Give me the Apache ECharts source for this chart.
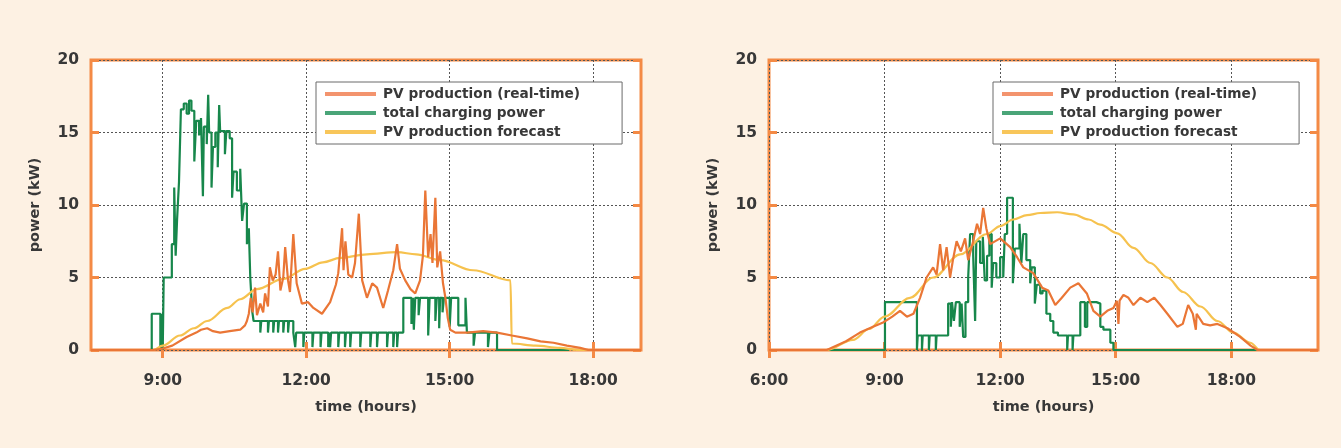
<!DOCTYPE html>
<html>
<head>
<meta charset="utf-8">
<title>PV production and EV charging</title>
<script src="https://cdn.jsdelivr.net/npm/echarts@6/dist/echarts.min.js"></script>
<style>
  html, body { margin: 0; padding: 0; background: #fdf1e3; }
  #chart { width: 1341px; height: 448px; }
</style>
</head>
<body>
<div id="chart"></div>
<script>
// ---- Day 1 (left panel): [hour, kW] ----
const day1Pv = [
  [7.5,0],[8.8,0],[9.0,0.1],[9.2,0.3],[9.5,0.9],[9.7,1.2],[9.8,1.4],[9.93,1.5],[10.05,1.3],[10.2,1.2],
  [10.4,1.3],[10.62,1.4],[10.72,1.7],[10.76,2.0],[10.8,2.5],[10.84,3.6],[10.88,2.6],[10.93,4.3],[10.97,2.4],
  [11.04,3.2],[11.1,2.6],[11.14,3.9],[11.2,3.0],[11.24,5.7],[11.3,4.8],[11.36,5.2],[11.41,6.8],[11.46,4.1],
  [11.52,5.0],[11.56,7.1],[11.62,4.8],[11.66,4.0],[11.73,8.0],[11.8,4.6],[11.91,3.2],[12.04,3.3],[12.15,2.9],
  [12.33,2.5],[12.5,3.3],[12.62,4.5],[12.67,5.3],[12.75,8.4],[12.78,5.5],[12.82,7.5],[12.88,5.2],[12.96,5.0],
  [13.02,6.0],[13.1,9.4],[13.17,4.8],[13.27,3.6],[13.38,4.6],[13.48,4.3],[13.61,2.9],[13.71,4.1],[13.82,5.5],
  [13.9,7.3],[13.96,5.6],[14.07,4.8],[14.18,4.2],[14.28,3.9],[14.38,4.8],[14.44,6.5],[14.49,11.0],[14.55,6.4],
  [14.6,8.0],[14.64,6.0],[14.7,10.5],[14.74,5.7],[14.8,6.8],[14.86,4.6],[14.91,3.6],[14.96,2.2],[15.01,1.4],
  [15.12,1.2],[15.37,1.2],[15.7,1.3],[15.99,1.2],[16.3,1.0],[16.62,0.8],[16.9,0.6],[17.17,0.5],[17.45,0.3],
  [17.73,0.15],[17.9,0],[19,0]
];
const day1Charging = [
  [7.5,0],[8.77,2.5],[8.95,0],[8.97,2.5],[9.0,0],[9.02,5.0],[9.19,7.3],[9.24,11.2],[9.27,6.5],[9.3,9.0],
  [9.34,11.6],[9.38,16.6],[9.44,17.0],[9.5,16.3],[9.55,17.2],[9.6,16.5],[9.66,13.0],[9.7,15.8],[9.76,14.8],
  [9.8,16.0],[9.84,10.6],[9.86,15.4],[9.92,14.2],[9.95,17.6],[9.97,15.0],[10.02,11.2],[10.05,14.0],[10.1,15.0],
  [10.15,12.6],[10.18,16.9],[10.2,15.1],[10.3,13.5],[10.33,15.1],[10.4,14.6],[10.45,10.5],[10.48,12.3],
  [10.55,11.0],[10.62,12.5],[10.66,8.9],[10.7,10.1],[10.76,7.3],[10.8,8.4],[10.83,5.0],[10.87,2.7],[10.9,2.0],
  [11.04,1.2],[11.06,2.0],[11.2,1.2],[11.22,2.0],[11.31,1.2],[11.33,2.0],[11.41,1.2],[11.43,2.0],[11.52,1.2],
  [11.54,2.0],[11.62,1.2],[11.64,2.0],[11.73,1.2],[11.77,0.2],[11.79,1.2],[11.94,0.2],[11.96,1.2],[12.13,0.2],
  [12.15,1.2],[12.3,0.2],[12.32,1.2],[12.46,0.2],[12.48,1.2],[12.5,0.2],[12.52,1.2],[12.67,0.2],[12.69,1.2],
  [12.81,0.2],[12.83,1.2],[12.92,0.2],[12.94,1.2],[13.13,0.2],[13.15,1.2],[13.34,0.2],[13.36,1.2],[13.48,0.2],
  [13.5,1.2],[13.69,0.2],[13.71,1.2],[13.82,0.2],[13.84,1.2],[13.9,0.2],[13.92,1.2],[14.03,3.6],[14.2,1.8],
  [14.23,3.6],[14.25,1.4],[14.28,3.6],[14.35,2.4],[14.38,3.6],[14.55,1.0],[14.58,3.6],[14.7,2.0],[14.73,3.6],
  [14.78,1.5],[14.8,3.6],[14.85,2.6],[14.88,3.6],[15.0,1.6],[15.03,3.6],[15.18,1.7],[15.33,3.6],[15.36,1.2],
  [15.5,0.3],[15.53,1.2],[15.65,1.2],[15.8,0.2],[15.83,1.2],[15.99,0],[17.5,0]
];
const day1Forecast = [
  [7.5,0],[8.8,0],[9.0,0.3],[9.36,1.0],[9.65,1.5],[9.93,2.0],[10.35,2.9],[10.62,3.5],[10.97,4.2],[11.52,4.9],
  [11.98,5.6],[12.35,6.05],[12.71,6.35],[13.27,6.6],[13.9,6.75],[14.3,6.6],[14.8,6.2],[15.49,5.5],[16.27,4.8],
  [16.3,0.45],[16.8,0.3],[17.3,0.15],[17.7,0],[19,0]
];

// ---- Day 2 (right panel): [hour, kW] ----
const day2Pv = [
  [6,0],[7.5,0],[8.0,0.6],[8.36,1.2],[8.7,1.6],[8.96,1.9],[9.2,2.3],[9.4,2.7],[9.58,2.3],[9.75,2.5],[9.92,3.6],
  [10.09,5.0],[10.26,5.7],[10.35,5.2],[10.44,7.3],[10.52,5.5],[10.61,7.1],[10.7,5.0],[10.78,6.3],[10.87,7.5],
  [10.98,6.8],[11.09,7.7],[11.17,6.2],[11.3,7.5],[11.4,8.7],[11.48,8.0],[11.56,9.8],[11.64,8.4],[11.74,7.3],
  [12.0,7.7],[12.26,7.1],[12.44,6.4],[12.6,5.7],[12.86,5.3],[13.09,4.3],[13.25,4.1],[13.43,3.1],[13.6,3.6],
  [13.82,4.3],[14.03,4.6],[14.25,3.9],[14.42,2.7],[14.6,2.3],[14.78,2.7],[14.94,2.9],[15.03,3.4],[15.07,1.8],
  [15.1,3.4],[15.2,3.8],[15.33,3.6],[15.46,3.1],[15.64,3.6],[15.82,3.3],[16.0,3.6],[16.16,3.1],[16.34,2.5],
  [16.6,1.6],[16.74,1.8],[16.88,3.1],[17.0,2.5],[17.08,1.4],[17.1,2.5],[17.27,1.8],[17.45,1.7],[17.64,1.8],
  [17.9,1.5],[18.23,0.9],[18.5,0.3],[18.68,0],[20.25,0]
];
const day2Charging = [
  [6,0],[9.01,3.3],[9.84,0],[9.86,1.0],[9.97,0],[9.99,1.0],[10.15,0],[10.17,1.0],[10.33,0],[10.35,1.0],
  [10.65,3.2],[10.72,1.6],[10.75,3.3],[10.8,2.0],[10.85,3.3],[10.95,1.6],[11.0,3.2],[11.04,0.9],[11.1,3.3],
  [11.17,5.0],[11.22,8.0],[11.3,6.5],[11.35,2.0],[11.38,7.5],[11.48,6.0],[11.55,7.8],[11.6,4.8],[11.66,6.5],
  [11.72,8.0],[11.78,4.3],[11.82,6.0],[11.9,5.0],[12.0,6.4],[12.08,5.0],[12.12,8.0],[12.18,10.5],[12.33,4.6],
  [12.38,7.0],[12.5,8.7],[12.55,6.0],[12.6,8.0],[12.68,6.2],[12.78,4.6],[12.82,5.7],[12.9,3.2],[12.95,4.5],
  [13.04,3.9],[13.1,4.1],[13.2,2.5],[13.3,2.0],[13.38,1.2],[13.5,1.0],[13.74,0],[13.76,1.0],[13.88,0],
  [13.9,1.0],[14.08,3.3],[14.2,1.6],[14.26,3.3],[14.5,3.2],[14.6,1.6],[14.68,1.4],[14.86,0.5],[14.94,0],[18.7,0]
];
const day2Forecast = [
  [6,0],[7.5,0],[8.18,0.7],[8.6,1.45],[9.0,2.3],[9.66,3.6],[10.26,5.0],[10.96,6.6],[11.66,8.0],[12.0,8.55],
  [12.34,9.0],[12.7,9.3],[13.04,9.45],[13.48,9.5],[13.9,9.35],[14.3,9.0],[14.6,8.65],[15.04,8.05],[15.46,7.05],
  [15.9,6.0],[16.34,5.0],[16.75,4.0],[17.2,3.0],[17.64,2.0],[18.05,1.2],[18.49,0.5],[18.75,0],[20.25,0]
];

// ---- axes and labels ----
const seriesNames = ['PV production (real-time)', 'total charging power', 'PV production forecast'];
const hourTicks = [9, 12, 15, 18];
const day2HourTicks = [6, 9, 12, 15, 18];
const xName = 'time (hours)';
const yName = 'power (kW)';

const ORANGE = '#f48a45';
const PV_COLOR = '#ea7636';
const CHG_COLOR = '#17874b';
const FC_COLOR = '#f6c24e';
const TEXT = '#383838';
const FONT = 'DejaVu Sans';

const chart = echarts.init(document.getElementById('chart'), null, { renderer: 'canvas' });

const panels = [
  { left: 91, width: 550, min: 7.5, max: 19, ticks: hourTicks, pv: day1Pv, chg: day1Charging, fc: day1Forecast, legendLeft: 316 },
  { left: 769, width: 549, min: 6, max: 20.25, ticks: day2HourTicks, pv: day2Pv, chg: day2Charging, fc: day2Forecast, legendLeft: 993 }
];

const hourLabel = v => Math.round(v) + ':00';
const tickStyle = { show: true, inside: true, length: 8, lineStyle: { color: ORANGE, width: 3 } };
const tickFont = { fontFamily: FONT, fontWeight: 'bold', fontSize: 15.5, color: TEXT };
const nameFont = { fontFamily: FONT, fontWeight: 'bold', fontSize: 14.5, color: TEXT };

const grid = [], xAxis = [], yAxis = [], series = [], legend = [];

panels.forEach((p, i) => {
  grid.push({
    left: p.left, top: 60, width: p.width, height: 290,
    show: true, backgroundColor: '#ffffff', borderColor: ORANGE, borderWidth: 3
  });
  // bottom time axis with labels and dotted grid
  xAxis.push({
    type: 'value', gridIndex: i, min: p.min, max: p.max, position: 'bottom',
    axisLine: { show: false },
    axisTick: Object.assign({ customValues: p.ticks }, tickStyle),
    axisLabel: Object.assign({ customValues: p.ticks, margin: 23, formatter: hourLabel }, tickFont),
    splitLine: { show: true, lineStyle: { color: '#555', type: [2, 2], width: 1 } },
    name: xName, nameLocation: 'middle', nameGap: 50,
    nameTextStyle: nameFont
  });
  // mirrored ticks on the top edge
  xAxis.push({
    type: 'value', gridIndex: i, min: p.min, max: p.max, position: 'top',
    axisLine: { show: false },
    axisTick: Object.assign({ customValues: p.ticks }, tickStyle),
    axisLabel: { show: false }, splitLine: { show: false }
  });
  yAxis.push({
    type: 'value', gridIndex: i, min: 0, max: 20, interval: 5, position: 'left',
    axisLine: { show: false },
    axisTick: tickStyle,
    axisLabel: Object.assign({ margin: 12 }, tickFont),
    splitLine: { show: true, lineStyle: { color: '#555', type: [2, 2], width: 1 } },
    name: yName, nameLocation: 'middle', nameGap: 48, nameRotate: 90,
    nameTextStyle: nameFont
  });
  yAxis.push({
    type: 'value', gridIndex: i, min: 0, max: 20, interval: 5, position: 'right',
    axisLine: { show: false }, axisTick: tickStyle,
    axisLabel: { show: false }, splitLine: { show: false }
  });

  const xi = i * 2, yi = i * 2;
  series.push({
    name: seriesNames[1], type: 'line', xAxisIndex: xi, yAxisIndex: yi, data: p.chg,
    step: 'end', showSymbol: false, lineStyle: { color: CHG_COLOR, width: 2.2 }, itemStyle: { color: CHG_COLOR }, z: 3
  });
  series.push({
    name: seriesNames[2], type: 'line', xAxisIndex: xi, yAxisIndex: yi, data: p.fc,
    smooth: 0.35, smoothMonotone: 'x', showSymbol: false,
    lineStyle: { color: FC_COLOR, width: 2.2 }, itemStyle: { color: FC_COLOR }, z: 4
  });
  series.push({
    name: seriesNames[0], type: 'line', xAxisIndex: xi, yAxisIndex: yi, data: p.pv,
    showSymbol: false, lineStyle: { color: PV_COLOR, width: 2.2 }, itemStyle: { color: PV_COLOR }, z: 5
  });

  legend.push({
    orient: 'vertical', left: p.legendLeft, top: 82,
    backgroundColor: '#ffffff', borderColor: '#6a6a6a', borderWidth: 1, borderRadius: 0,
    padding: [5, 42, 5, 9], itemGap: 5, itemWidth: 51, itemHeight: 4, icon: 'rect',
    selectedMode: false,
    data: [
      { name: seriesNames[0], itemStyle: { color: '#f3946e' } },
      { name: seriesNames[1], itemStyle: { color: '#4aa578' } },
      { name: seriesNames[2], itemStyle: { color: '#f8c65a' } }
    ],
    textStyle: { fontFamily: FONT, fontWeight: 'bold', fontSize: 13.7, color: TEXT, padding: [0, 0, 0, 2] }
  });
});

chart.setOption({
  backgroundColor: '#fdf1e3',
  animation: false,
  grid, xAxis, yAxis, series, legend
});
</script>
</body>
</html>
